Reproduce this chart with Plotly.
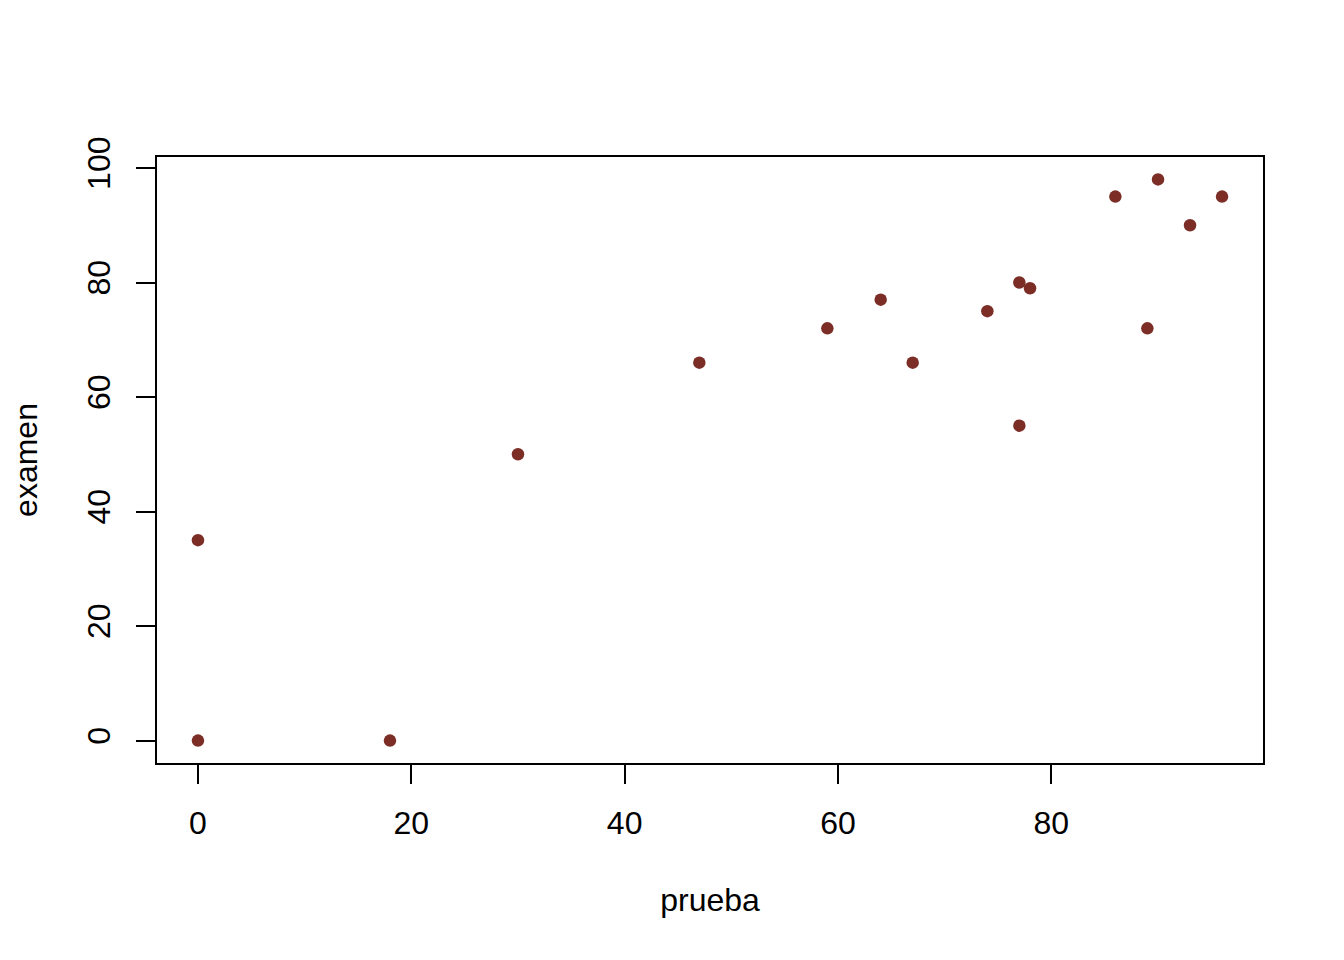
import plotly.graph_objects as go

prueba = [0, 0, 18, 30, 47, 59, 64, 67, 74, 77, 77, 78, 86, 89, 90, 93, 96]
examen = [0, 35, 0, 50, 66, 72, 77, 66, 75, 80, 55, 79, 95, 72, 98, 90, 95]
x_ticks = [0, 20, 40, 60, 80]
y_ticks = [0, 20, 40, 60, 80, 100]

FONT = "Liberation Sans, Arial, sans-serif"
fig = go.Figure(go.Scatter(
    x=prueba, y=examen, mode="markers",
    marker=dict(color="#7B2D26", size=12.5, line=dict(width=0)),
))

xr = [min(prueba) - 0.04 * (max(prueba) - min(prueba)), max(prueba) + 0.04 * (max(prueba) - min(prueba))]
yr = [min(examen) - 0.04 * (max(examen) - min(examen)), max(examen) + 0.04 * (max(examen) - min(examen))]

axis_common = dict(
    showgrid=False, zeroline=False, showline=True, mirror=True,
    linecolor="black", linewidth=1.5, ticks="outside", ticklen=19,
    tickwidth=1.5, tickcolor="black", automargin=False,
    tickfont=dict(family=FONT, size=32, color="black"),
)
fig.update_layout(
    width=1336, height=952,
    paper_bgcolor="white", plot_bgcolor="white",
    margin=dict(l=149, r=81, t=149, b=197),
    showlegend=False,
    xaxis=dict(range=xr, tickvals=x_ticks, ticklabelstandoff=12,
               title=dict(text="prueba", font=dict(family=FONT, size=32, color="black"), standoff=48),
               **axis_common),
    yaxis=dict(range=yr, tickvals=y_ticks, tickangle=-90, ticklabelstandoff=13,
               title=dict(text="examen", font=dict(family=FONT, size=32, color="black"), standoff=49),
               **axis_common),
)
fig.write_html("out.html")
